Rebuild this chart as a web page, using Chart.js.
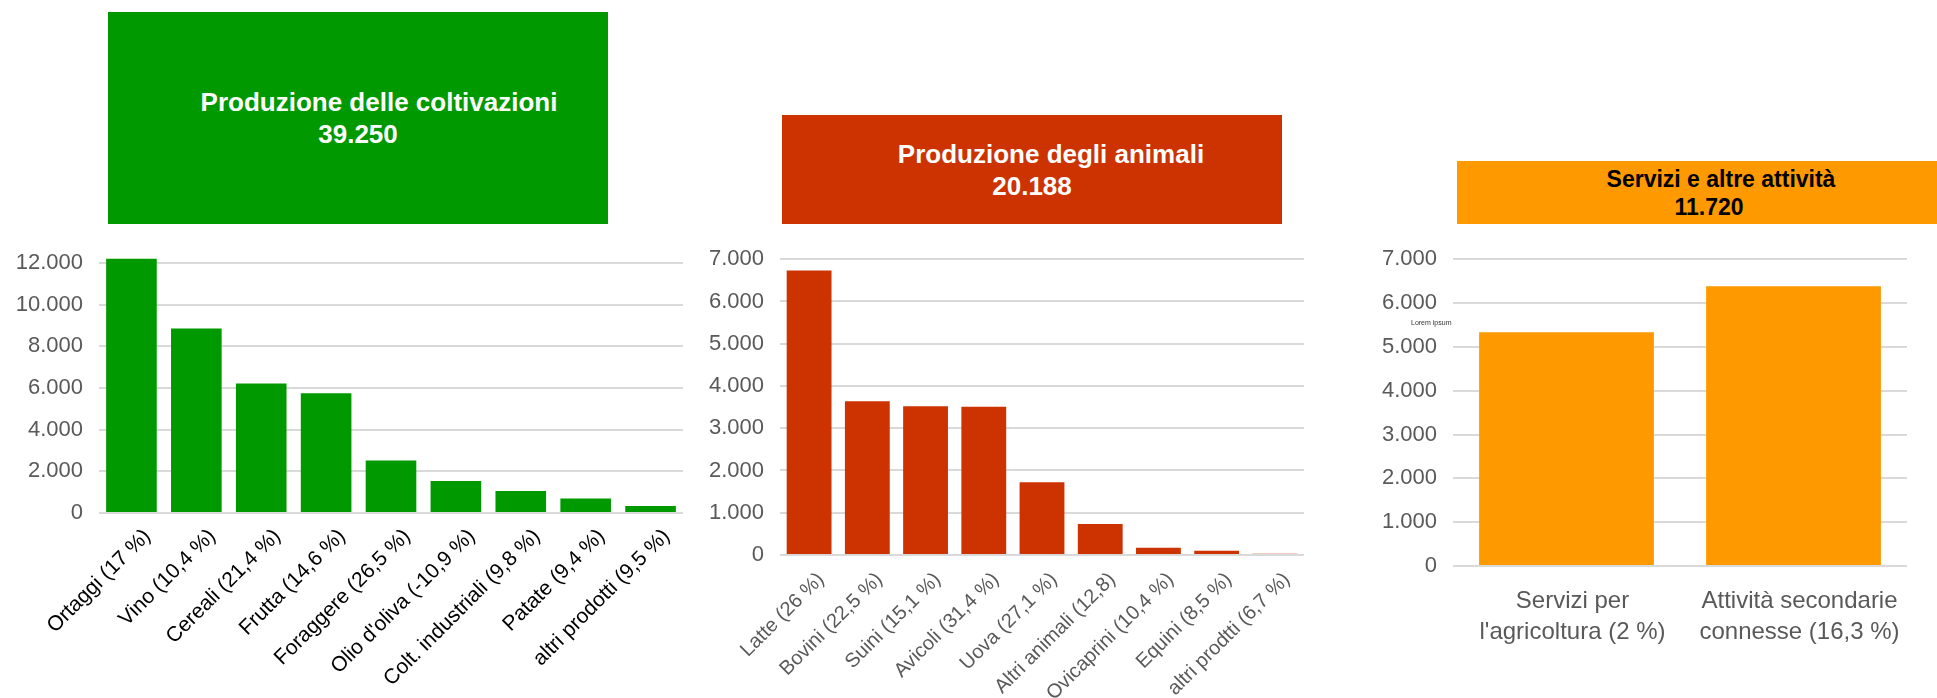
<!DOCTYPE html>
<html lang="it">
<head>
<meta charset="utf-8">
<title>Produzione agricola</title>
<script src="https://cdn.jsdelivr.net/npm/chart.js@4.4.1/dist/chart.umd.min.js"></script>
<style>
    html, body {
        margin: 0;
        padding: 0;
        width: 1937px;
        height: 698px;
        overflow: hidden;
        background: #fff;
        position: relative;
        font-family: 'Liberation Sans', Arial, sans-serif;
    }
    .box {
        position: absolute;
        display: flex;
        flex-direction: column;
        align-items: center;
        justify-content: center;
        font-weight: bold;
        color: #fff;
    }
    .box span { display: block; position: relative; }
    canvas { position: absolute; }
    .note { position: absolute; font-size: 7px; color: #333; white-space: nowrap; }
</style>
</head>
<body>

<div class="box" style="left:108px; top:12px; width:500px; height:212px; background:#009900; font-size:26px; line-height:32px;">
    <span style="left:21px;">Produzione delle coltivazioni</span>
    <span>39.250</span>
</div>
<div class="box" style="left:782px; top:115px; width:500px; height:109px; background:#cc3300; font-size:26px; line-height:32px;">
    <span style="left:19px;">Produzione degli animali</span>
    <span>20.188</span>
</div>
<div class="box" style="left:1457px; top:161px; width:504px; height:63px; background:#ff9900; color:#000; font-size:23px; line-height:28px;">
    <span style="left:12px;">Servizi e altre attività</span>
    <span>11.720</span>
</div>

<canvas id="coltChart" width="700" height="468" style="left:0; top:230px;"></canvas>
<canvas id="animChart" width="640" height="468" style="left:700px; top:230px;"></canvas>
<canvas id="servChart" width="597" height="468" style="left:1340px; top:230px;"></canvas>

<div class="note" style="left:1411px; top:319px;">Lorem ipsum</div>

<script>
// Produzione delle coltivazioni
const coltLabels = ['Ortaggi (17 %)', 'Vino (10,4 %)', 'Cereali (21,4 %)', 'Frutta (14,6 %)',
    'Foraggere (26,5 %)', "Olio d'oliva (-10,9 %)", 'Colt. industriali (9,8 %)',
    'Patate (9,4 %)', 'altri prodotti (9,5 %)'];
const coltValues = [12200, 8860, 6220, 5750, 2520, 1540, 1060, 700, 340];
const coltTicks = { max: 12000, step: 2000 };

// Produzione degli animali
const animLabels = ['Latte (26 %)', 'Bovini (22,5 %)', 'Suini (15,1 %)', 'Avicoli (31,4 %)',
    'Uova (27,1 %)', 'Altri animali (12,8)', 'Ovicaprini (10,4 %)', 'Equini (8,5 %)',
    'altri prodtti (6,7 %)'];
const animValues = [6730, 3640, 3520, 3510, 1720, 735, 170, 100, 30];
const animTicks = { max: 7000, step: 1000 };

// Servizi e altre attività
const servLabels = [['Servizi per', "l'agricoltura (2 %)"], ['Attività secondarie', 'connesse (16,3 %)']];
const servValues = [5335, 6385];
const servTicks = { max: 7000, step: 1000 };

const FONT = "'Liberation Sans', Arial, sans-serif";
const GRID = '#d9d9d9';
const TICK_GREY = '#595959';

function formatIt(value) {
    return String(value).replace(/\B(?=(\d{3})+(?!\d))/g, '.');
}

function makeBarChart(id, labels, values, color, ticks, cfg) {
    const ctx = document.getElementById(id);
    return new Chart(ctx, {
        type: 'bar',
        data: {
            labels: labels,
            datasets: [{
                data: values,
                backgroundColor: color,
                borderWidth: 0,
                barPercentage: cfg.barPct,
                categoryPercentage: 1,
                clip: false
            }]
        },
        options: {
            responsive: false,
            animation: false,
            layout: {
                padding: { top: cfg.padTop, right: cfg.padRight, left: 0, bottom: 0 }
            },
            plugins: {
                legend: { display: false },
                tooltip: { enabled: false }
            },
            scales: {
                x: {
                    grid: { display: false },
                    border: { display: false },
                    afterFit: function(scale) { scale.height = cfg.xHeight; },
                    ticks: {
                        autoSkip: false,
                        minRotation: cfg.rotation,
                        maxRotation: cfg.rotation,
                        padding: cfg.xPad,
                        labelOffset: cfg.labelOffset,
                        color: cfg.xColor,
                        font: { family: FONT, size: cfg.xFont, lineHeight: cfg.xLine }
                    }
                },
                y: {
                    min: 0,
                    max: ticks.max,
                    border: { display: false },
                    grid: { color: GRID, lineWidth: 2, drawTicks: false },
                    afterFit: function(scale) { scale.width = cfg.yWidth; },
                    ticks: {
                        stepSize: ticks.step,
                        padding: 16,
                        color: TICK_GREY,
                        font: { family: FONT, size: 22 },
                        callback: function(value) { return formatIt(value); }
                    }
                }
            }
        }
    });
}

makeBarChart('coltChart', coltLabels, coltValues, '#009900', coltTicks, {
    barPct: 0.78, padTop: 33, padRight: 17, yWidth: 99, xHeight: 185,
    rotation: 45, xPad: 3, labelOffset: 16, xColor: '#000', xFont: 21, xLine: 1.2
});

makeBarChart('animChart', animLabels, animValues, '#cc3300', animTicks, {
    barPct: 0.77, padTop: 20, padRight: 36, yWidth: 80, xHeight: 143,
    rotation: 45, xPad: 5, labelOffset: 12, xColor: TICK_GREY, xFont: 20, xLine: 1.2
});

makeBarChart('servChart', servLabels, servValues, '#ff9900', servTicks, {
    barPct: 0.77, padTop: 14, padRight: 30, yWidth: 113, xHeight: 132,
    rotation: 0, xPad: 12, labelOffset: 6, xColor: TICK_GREY, xFont: 24, xLine: 1.29
});
</script>
</body>
</html>
